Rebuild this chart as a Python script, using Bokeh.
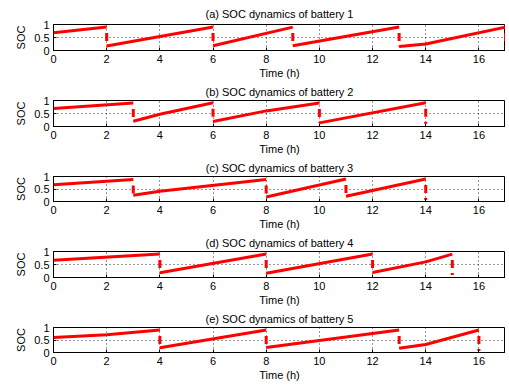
from bokeh.plotting import figure
from bokeh.layouts import column
from bokeh.models import Range1d, FixedTicker
from bokeh.embed import file_html
from bokeh.resources import INLINE

FONT = "Liberation Sans"

# time axis
x_ticks = [0, 2, 4, 6, 8, 10, 12, 14, 16]
y_ticks = [0, 0.5, 1]
y_tick_labels = {0: "0", 0.5: "0.5", 1: "1"}

titles = [
    "(a) SOC dynamics of battery 1",
    "(b) SOC dynamics of battery 2",
    "(c) SOC dynamics of battery 3",
    "(d) SOC dynamics of battery 4",
    "(e) SOC dynamics of battery 5",
]

# charging segments (time in h, SOC)
b1_t = [[0, 2], [2, 6], [6, 9], [9, 13], [13, 14, 17]]
b1_soc = [[0.68, 0.9], [0.17, 0.9], [0.18, 0.9], [0.18, 0.9], [0.15, 0.25, 0.9]]
b1_end_soc = 0.15

b2_t = [[0, 3], [3, 4, 6], [6, 8, 10], [10, 14]]
b2_soc = [[0.69, 0.9], [0.2, 0.47, 0.91], [0.19, 0.6, 0.9], [0.14, 0.91]]
b2_end_soc = 0.0

b3_t = [[0, 3], [3, 4, 8], [8, 11], [11, 14]]
b3_soc = [[0.67, 0.88], [0.25, 0.41, 0.88], [0.18, 0.9], [0.21, 0.9]]
b3_end_soc = 0.0

b4_t = [[0, 4], [4, 8], [8, 12], [12, 14, 15]]
b4_soc = [[0.66, 0.9], [0.18, 0.9], [0.16, 0.9], [0.19, 0.6, 0.9]]
b4_end_soc = 0.0

b5_t = [[0, 2, 4], [4, 8], [8, 13], [13, 14, 16]]
b5_soc = [[0.6, 0.71, 0.9], [0.19, 0.9], [0.2, 0.9], [0.17, 0.32, 0.9]]
b5_end_soc = 0.0

batteries = [
    (b1_t, b1_soc, b1_end_soc),
    (b2_t, b2_soc, b2_end_soc),
    (b3_t, b3_soc, b3_end_soc),
    (b4_t, b4_soc, b4_end_soc),
    (b5_t, b5_soc, b5_end_soc),
]

RED = "#ff0000"
top_borders = [24, 19, 19, 19, 19]
frame_heights = [26, 26, 25, 26, 25]
title_standoffs = [10, 5, 5, 5, 5]
BOTTOM = 31

figs = []
for i, (ts, socs, end_soc) in enumerate(batteries):
    top = top_borders[i]
    p = figure(width=505, height=top + frame_heights[i] + BOTTOM,
               output_backend="svg", toolbar_location=None,
               x_range=Range1d(0, 17), y_range=Range1d(0, 1),
               min_border_left=53, min_border_right=0,
               min_border_top=top, min_border_bottom=BOTTOM)
    p.title.text = titles[i]
    p.title.align = "center"
    p.title.text_font = FONT
    p.title.text_font_size = "11px"
    p.title.text_font_style = "normal"
    p.title.text_color = "black"
    p.title.standoff = title_standoffs[i]
    p.title.offset = 0

    # charging lines
    p.multi_line(xs=ts, ys=socs, line_color=RED, line_width=3)

    # swap drops (vertical, dashed)
    dx, dy = [], []
    for k in range(len(ts)):
        t_swap = ts[k][-1]
        hi = socs[k][-1]
        lo = socs[k + 1][0] if k + 1 < len(ts) else end_soc
        dx.append([t_swap, t_swap])
        dy.append([hi, lo])
    p.multi_line(xs=dx, ys=dy, line_color=RED, line_width=3,
                 line_dash="8 5 2 200", line_dash_offset=209, line_cap="butt")

    for ax in (p.xaxis, p.yaxis):
        ax.major_label_text_font = FONT
        ax.major_label_text_font_size = "11px"
        ax.major_label_text_color = "black"
        ax.axis_label_text_font = FONT
        ax.axis_label_text_font_size = "11px"
        ax.axis_label_text_font_style = "normal"
        ax.axis_label_text_color = "black"
        ax.major_tick_in = 3
        ax.major_tick_out = 0
        ax.minor_tick_in = 0
        ax.minor_tick_out = 0
        ax.axis_line_color = "black"
        ax.major_tick_line_color = "black"

    p.xaxis.ticker = FixedTicker(ticks=x_ticks)
    p.yaxis.ticker = FixedTicker(ticks=y_ticks)
    p.yaxis.major_label_overrides = y_tick_labels
    p.xaxis.axis_label = "Time (h)"
    p.yaxis.axis_label = "SOC"
    p.xaxis.major_label_standoff = 4
    p.xaxis.axis_label_standoff = 1
    p.yaxis.major_label_standoff = 4
    p.yaxis.axis_label_standoff = 4

    p.grid.grid_line_color = "black"
    p.grid.grid_line_dash = "1 3"
    p.grid.grid_line_alpha = 0.8
    p.grid.grid_line_width = 1

    p.outline_line_color = "black"
    p.outline_line_alpha = 1
    p.background_fill_color = "white"
    p.border_fill_color = "white"
    figs.append(p)

layout = column(*figs, spacing=0)
open("out.html", "w").write(file_html(layout, INLINE))
